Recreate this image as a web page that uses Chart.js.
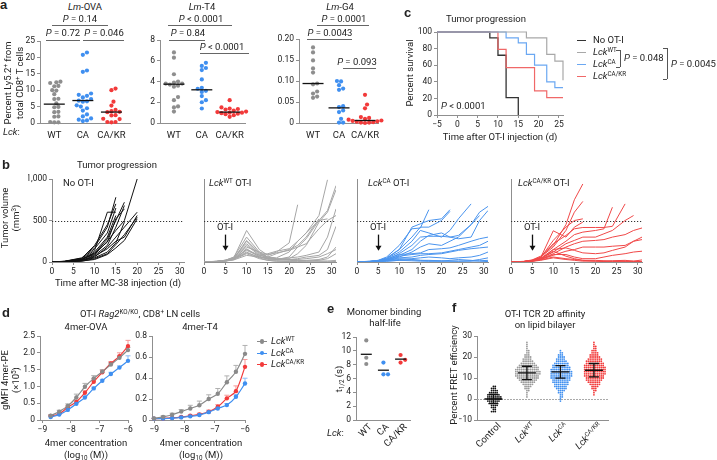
<!DOCTYPE html>
<html>
<head>
<meta charset="utf-8">
<script src="https://cdn.jsdelivr.net/npm/chart.js@4.4.0/dist/chart.umd.min.js"></script>
<style>
body { margin: 0; background: #fff; }
#fig { position: relative; width: 717px; height: 460px; overflow: hidden; font-family: Roboto, 'Noto Sans', sans-serif; color: #222; background: #fff; }
#fig canvas { position: absolute; }
.t { position: absolute; white-space: nowrap; font-size: 9.5px; line-height: 1; }
.c { transform: translate(-50%, -50%); }
.l { transform: translate(0, -50%); }
.v { transform: translate(-50%, -50%) rotate(-90deg); }
.d45 { transform-origin: 100% 50%; transform: translate(-100%, -50%) rotate(-45deg); }
.pl { font-weight: bold; font-size: 13px; font-family: Arial, 'Liberation Sans', sans-serif; }
sup { font-size: 0.66em; vertical-align: 0.5em; line-height: 0; }
sub { font-size: 0.66em; vertical-align: -0.25em; line-height: 0; }
</style>
</head>
<body>
<div id="fig"></div>
<script>
// ---------- a: Lm infections, percent Ly5.2+ ----------
const aCats = ['WT', 'CA', 'CA/KR'];
const ovaWT = [12.6, 12.4, 12.2, 11.3, 11.2, 10.0, 9.9, 8.8, 7.4, 7.3, 6.0, 4.9, 4.8, 3.4, 3.3, 2.0, 1.9, 0.3, 0.2, 0.2];
const ovaCA = [21.5, 20.8, 16.0, 15.6, 9.0, 8.6, 8.3, 7.8, 7.3, 6.8, 6.6, 6.5, 5.4, 5.0, 4.5, 3.8, 2.6, 2.0, 1.4, 1.0, 0.8, 0.6];
const ovaKR = [10.5, 10.0, 6.5, 5.3, 4.0, 3.6, 3.4, 3.3, 2.4, 2.3, 1.3, 1.2, 0.3, 0.3, 0.2];
const ovaMed = [5.75, 6.85, 3.33];
const t4WT = [6.8, 6.3, 4.7, 4.0, 3.9, 3.8, 3.8, 3.7, 3.6, 3.5, 2.5, 2.2, 1.6, 1.5, 1.1];
const t4CA = [5.8, 5.5, 5.3, 5.1, 4.2, 3.4, 3.3, 3.1, 3.0, 2.6, 2.2, 2.0, 1.4];
const t4KR = [2.2, 1.5, 1.4, 1.35, 1.3, 1.2, 1.1, 1.05, 1.0, 1.0, 0.95, 0.9, 0.85, 0.75, 0.6];
const t4Med = [3.74, 3.2, 1.05];
const g4WT = [0.18, 0.168, 0.149, 0.13, 0.12, 0.094, 0.092, 0.075, 0.07, 0.063, 0.06];
const g4CA = [0.1, 0.099, 0.09, 0.082, 0.079, 0.04, 0.038, 0.03, 0.026, 0.01, 0.001, 0.001];
const g4KR = [0.067, 0.044, 0.035, 0.014, 0.012, 0.01, 0.008, 0.006, 0.005, 0.004, 0.003, 0.002, 0.001, 0.001, 0.0];
const g4Med = [0.094, 0.036, 0.006];

// ---------- c: survival ----------
const survNoX = [-5, 8, 10, 12, 15],          survNoY = [100, 93, 72, 21, 0];
const survWTX = [-5, 17, 22, 24, 26],         survWTY = [100, 93, 73, 65, 42];
const survCAX = [-5, 12, 15, 17, 19, 22, 24, 26], survCAY = [100, 93, 87, 73, 60, 40, 33, 33];
const survKRX = [-5, 10, 12, 19, 22, 26],     survKRY = [100, 79, 57, 29, 21, 21];

// ---------- b: tumour volumes (mm3) ----------
const daysNo = [0, 3, 7, 10, 13, 15, 17, 20];
const daysOT = [0, 3, 5, 7, 10, 13, 15, 17, 20, 22, 24, 27, 29, 31];
const volNo = [
  [0, 10, 50, 180, 420, 780],
  [0, 5, 30, 100, 280, 500, 720],
  [0, 8, 40, 160, 350, 650],
  [0, 5, 20, 80, 200, 420, 680],
  [0, 3, 25, 120, 300, 560],
  [0, 6, 35, 90, 250, 380, 500, 1000],
  [0, 4, 20, 60, 180, 300, 420, 600],
  [0, 2, 15, 70, 160, 250, 300, 560],
  [0, 5, 30, 140, 600, 600],
  [0, 3, 18, 50, 120, 230, 480],
  [0, 7, 45, 200, 450, 700],
  [0, 4, 10, 40, 100, 210, 330, 540],
  [0, 6, 28, 110, 240, 520, 640],
  [0, 2, 12, 30, 90, 170, 260, 520]
];
const volWT = [
  [0, 10, 20, 50, 380, 150, 80, 120, 230, 690],
  [0, 8, 20, 60, 300, 120, 60, 50, 120, 250, 350, 560, 990],
  [0, 6, 18, 40, 250, 100, 50, 30, 60, 180, 280, 500, 620, 920],
  [0, 8, 22, 55, 220, 90, 40, 30, 40, 100, 200, 480, 600, 870],
  [0, 5, 15, 35, 200, 80, 60, 100, 150, 200, 300, 520],
  [0, 7, 20, 45, 180, 120, 90, 110, 140, 180, 220, 400, 500, 560],
  [0, 6, 15, 30, 160, 60, 40, 30, 50, 60, 80, 120, 300, 640],
  [0, 5, 12, 40, 140, 70, 30, 20, 30, 40, 60, 80, 150, 430],
  [0, 4, 15, 35, 120, 50, 20, 10, 10, 15, 20, 30, 60, 180],
  [0, 5, 12, 30, 100, 40, 20, 10, 5, 5, 10, 20, 40, 100],
  [0, 3, 10, 25, 80, 60, 50, 40, 30, 20, 15, 10, 10, 20],
  [0, 4, 12, 30, 150, 80, 100, 130, 160, 250, 350, 500, 520],
  [0, 5, 14, 35, 110, 60, 40, 30, 20, 15, 10, 10, 10, 5],
  [0, 6, 16, 40, 260, 110, 60, 40, 30, 30, 40, 60, 100, 150]
];
const volCA = [
  [0, 10, 20, 60, 200, 400, 410, 630],
  [0, 8, 18, 50, 150, 300, 420, 420, 500, 610],
  [0, 6, 15, 40, 120, 250, 380, 350, 300, 380, 520, 700],
  [0, 5, 12, 30, 100, 200, 300, 310, 310, 300, 320, 450, 600, 670],
  [0, 5, 10, 20, 80, 150, 250, 320, 350, 300, 280, 300, 500, 620],
  [0, 4, 10, 25, 60, 120, 180, 220, 200, 250, 300, 450, 560],
  [0, 6, 14, 35, 90, 100, 110, 150, 160, 170, 200, 250, 280, 300],
  [0, 5, 12, 30, 70, 90, 100, 100, 110, 130, 150, 180, 200, 250],
  [0, 4, 10, 20, 50, 60, 80, 90, 100, 120, 140, 160, 170, 180],
  [0, 3, 8, 15, 30, 40, 50, 60, 50, 40, 50, 60, 80, 120],
  [0, 5, 10, 20, 40, 30, 20, 20, 15, 10, 10, 15, 30, 50],
  [0, 4, 8, 10, 20, 15, 10, 8, 10, 20, 30, 20, 10, 5],
  [0, 5, 15, 40, 150, 420, 460, 500, 520, 630],
  [0, 3, 6, 10, 20, 25, 20, 15, 10, 10, 10, 10, 15, 20]
];
const volKR = [
  [0, 8, 25, 70, 200, 450, 750, 940],
  [0, 6, 20, 60, 180, 380, 600, 730],
  [0, 5, 18, 50, 376, 300, 420, 480],
  [0, 6, 20, 55, 220, 320, 400, 416, 416, 416, 430, 700],
  [0, 5, 15, 45, 150, 250, 330, 360, 380, 400, 660],
  [0, 4, 15, 40, 120, 220, 260, 300, 300, 340, 380, 500, 560],
  [0, 5, 14, 35, 100, 180, 220, 250, 260, 270, 300, 330, 380, 410],
  [0, 4, 12, 30, 80, 130, 150, 180, 180, 180, 190, 200, 250, 270],
  [0, 4, 12, 30, 90, 90, 60, 40, 40, 60, 80, 100, 120, 130],
  [0, 3, 10, 25, 60, 40, 30, 20, 20, 15, 10, 10, 10, 5],
  [0, 5, 15, 40, 130, 70, 40, 20, 10, 10, 15, 20, 10, 25],
  [0, 3, 8, 20, 50, 30, 20, 10, 10, 5, 5, 5, 5, 5],
  [0, 6, 18, 50, 260, 420, 500, 520],
  [0, 4, 12, 30, 150, 170, 140, 110, 100, 110, 140, 180, 250, 300]
];

// ---------- d: tetramer binding (gMFI x10^5) ----------
const concOVA = [-8.71, -8.41, -8.11, -7.81, -7.51, -7.20, -6.90, -6.60, -6.30, -6.00];
const ovaMfiWT = [0.13, 0.25, 0.42, 0.67, 0.99, 1.24, 1.44, 1.65, 1.85, 2.08];
const ovaMfiCA = [0.09, 0.16, 0.30, 0.48, 0.67, 0.94, 1.17, 1.37, 1.56, 1.76];
const ovaMfiKR = [0.12, 0.18, 0.38, 0.54, 0.81, 1.14, 1.42, 1.68, 1.90, 2.20];
const ovaErrWT = [0.03, 0.04, 0.06, 0.1, 0.1, 0.08, 0.06, 0.06, 0.06, 0.08];
const ovaErrCA = [0.02, 0.02, 0.03, 0.03, 0.04, 0.04, 0.04, 0.05, 0.05, 0.15];
const ovaErrKR = [0.02, 0.03, 0.04, 0.05, 0.06, 0.08, 0.06, 0.06, 0.1, 0.17];
const concT4 = [-9.01, -8.71, -8.41, -8.11, -7.81, -7.51, -7.20, -6.90, -6.60, -6.30, -6.00];
const t4MfiWT = [0.015, 0.03, 0.05, 0.08, 0.11, 0.14, 0.2, 0.25, 0.36, 0.46, 0.63];
const t4MfiCA = [0.012, 0.014, 0.018, 0.025, 0.035, 0.047, 0.075, 0.11, 0.142, 0.221, 0.348];
const t4MfiKR = [0.012, 0.015, 0.02, 0.028, 0.04, 0.054, 0.079, 0.126, 0.206, 0.275, 0.506];
const t4ErrWT = [0.005, 0.01, 0.015, 0.02, 0.03, 0.04, 0.04, 0.05, 0.06, 0.06, 0.08];
const t4ErrCA = [0.003, 0.003, 0.004, 0.005, 0.006, 0.008, 0.01, 0.01, 0.015, 0.02, 0.05];
const t4ErrKR = [0.003, 0.004, 0.005, 0.006, 0.008, 0.01, 0.015, 0.02, 0.03, 0.05, 0.07];

// ---------- e: monomer half-life (s) ----------
const halfWT = [11.5, 9.0, 8.1];
const halfCA = [8.3, 6.6, 6.6];
const halfKR = [9.4, 8.3, 8.7];
const halfMean = [9.5, 7.2, 8.8];

// ---------- f: FRET efficiency, counts per 1% bin ----------
const fretStart = [-6, 1, -1, 2];
const fretCtrl = [3, 2, 3, 4, 5, 7, 8, 8, 7, 5, 4, 3, 2];
const fretWT = [1, 1, 1, 2, 3, 4, 6, 8, 10, 12, 13, 14, 14, 13, 12, 10, 8, 6, 5, 4, 3, 2, 2, 1, 1, 1, 1];
const fretCA = [1, 1, 2, 2, 3, 4, 6, 7, 8, 9, 10, 11, 12, 12, 12, 11, 10, 9, 8, 6, 5, 4, 3, 2, 1];
const fretKR = [1, 1, 2, 3, 4, 6, 7, 9, 10, 11, 12, 12, 12, 12, 11, 10, 9, 8, 6, 5, 4, 3, 2, 2, 1, 1];
const fretMean = [0, 12.4, 12.9, 13.7];
const fretSD = [2.2, 3.2, 3.0, 3.2];

const FONT = 'Roboto';
const AX = '#8f8f8f';
const GRAY = '#8e8e8e', BLUE = '#3f8ff0', RED = '#f23a3a';
Chart.defaults.font.family = FONT;

const fig = document.getElementById('fig');

function txt(x, y, html, cls, css) {
  const d = document.createElement('div');
  d.className = 't ' + (cls || 'c');
  d.style.left = x + 'px';
  d.style.top = y + 'px';
  if (css) d.style.cssText += css;
  d.innerHTML = html;
  fig.appendChild(d);
}
function hr(x1, x2, y, color, w) {
  const d = document.createElement('div');
  d.style.cssText = `position:absolute;left:${x1}px;top:${y}px;width:${x2 - x1}px;height:0;border-top:${w || 1}px solid ${color || '#555'}`;
  fig.appendChild(d);
}
function vr(x, y1, y2, color) {
  const d = document.createElement('div');
  d.style.cssText = `position:absolute;left:${x}px;top:${y1}px;width:0;height:${y2 - y1}px;border-left:1px solid ${color || '#555'}`;
  fig.appendChild(d);
}

function axis(min, max, o) {
  o = o || {};
  return {
    type: 'linear', min: min, max: max,
    border: {display: true, color: AX, width: 1},
    grid: {display: !!o.tick, drawOnChartArea: false, drawTicks: true, tickLength: 3, color: AX},
    ticks: {display: !!o.fmt, color: '#222', font: {family: FONT, size: o.size || 8.5}, padding: o.pad === undefined ? 2 : o.pad,
      maxRotation: 0, autoSkip: false, callback: o.fmt},
    afterBuildTicks: s => { if (o.at) s.ticks = o.at.map(v => ({value: v})); }
  };
}

/* places a chart so that its plot area is exactly b.l..b.r, b.t..b.b on the page */
function mk(b, datasets, x, y, plugins) {
  const m = 16;
  const W = b.r - b.l + b.yw + 2 * m, H = b.b - b.t + b.xh + 2 * m;
  const c = document.createElement('canvas');
  c.width = W; c.height = H;
  c.style.left = (b.l - b.yw - m) + 'px';
  c.style.top = (b.t - m) + 'px';
  c.style.width = W + 'px';
  c.style.height = H + 'px';
  fig.appendChild(c);
  x.position = 'bottom';
  y.position = 'left';
  x.afterFit = s => { s.height = b.xh; s.paddingLeft = 0; s.paddingRight = 0; };
  y.afterFit = s => { s.width = b.yw; s.paddingTop = 0; s.paddingBottom = 0; };
  return new Chart(c, {
    type: 'scatter',
    data: {datasets: datasets},
    options: {
      responsive: false, animation: false, events: [],
      layout: {padding: m},
      plugins: {legend: {display: false}, tooltip: {enabled: false}},
      scales: {x: x, y: y}
    },
    plugins: plugins || []
  });
}

/* simple beeswarm: horizontal offsets (in x units) so dots do not overlap */
function swarm(vals, pxY, pxX, d) {
  const order = vals.map((v, i) => i).sort((a, b) => vals[a] - vals[b]);
  const done = [], off = new Array(vals.length);
  order.forEach(i => {
    const y = vals[i] * pxY;
    for (let k = 0; k < 400; k++) {
      const dx = (k % 2 ? 1 : -1) * Math.ceil(k / 2) * d * 0.5;
      if (done.every(p => (p.x - dx) * (p.x - dx) + (p.y - y) * (p.y - y) >= d * d * 0.97)) {
        done.push({x: dx, y: y});
        off[i] = dx / pxX;
        break;
      }
    }
  });
  return off;
}
function dots(vals, cat, color, r, pxY, pxX, d) {
  const off = swarm(vals, pxY, pxX, d);
  return {data: vals.map((v, i) => ({x: cat + off[i], y: v})), pointRadius: r, pointBackgroundColor: color,
    pointBorderWidth: 0, borderWidth: 0, clip: false};
}

function centerMarks(vals, hw, sds, capw) {
  return {id: 'marks', afterDatasetsDraw(ch) {
    const c = ch.ctx, xs = ch.scales.x, ys = ch.scales.y;
    c.save();
    c.strokeStyle = '#111';
    c.lineWidth = 1.3;
    vals.forEach((v, i) => {
      const x = xs.getPixelForValue(i), y = ys.getPixelForValue(v);
      c.beginPath();
      c.moveTo(x - hw, y); c.lineTo(x + hw, y);
      if (sds) {
        const y1 = ys.getPixelForValue(v - sds[i]), y2 = ys.getPixelForValue(v + sds[i]);
        c.moveTo(x, y1); c.lineTo(x, y2);
        c.moveTo(x - capw, y1); c.lineTo(x + capw, y1);
        c.moveTo(x - capw, y2); c.lineTo(x + capw, y2);
      }
      c.stroke();
    });
    c.restore();
  }};
}

// ================= panel a =================
function aPanel(b, series, yMax, at, fmt, med) {
  const pxY = (b.b - b.t) / yMax;
  const pxX = (b.r - b.l) / (b.xmax - b.xmin);
  const cols = [GRAY, BLUE, RED];
  const ds = series.map((s, i) => dots(s, i, cols[i], 2.1, pxY, pxX, 4.1));
  mk(b, ds,
    axis(b.xmin, b.xmax, {at: [0, 1, 2], fmt: v => aCats[v], size: 9.5, pad: 4}),
    axis(0, yMax, {tick: true, at: at, fmt: fmt}),
    [centerMarks(med, 10.5)]);
}
aPanel({l: 40, r: 130, t: 41, b: 123, yw: 18, xh: 16, xmin: -0.5, xmax: 2.65}, [ovaWT, ovaCA, ovaKR], 25,
  [0, 5, 10, 15, 20, 25], v => String(v), ovaMed);
aPanel({l: 160, r: 245, t: 40, b: 123, yw: 14, xh: 16, xmin: -0.5, xmax: 2.55}, [t4WT, t4CA, t4KR], 8,
  [0, 2, 4, 6, 8], v => String(v), t4Med);
aPanel({l: 299, r: 378, t: 39, b: 123, yw: 22, xh: 16, xmin: -0.54, xmax: 2.5}, [g4WT, g4CA, g4KR], 0.2,
  [0, 0.05, 0.1, 0.15, 0.2], v => v === 0 ? '0' : v.toFixed(2), g4Med);

txt(0, 4, 'a', 'pl l');
txt(85, 7, '<i>Lm</i>-OVA');
txt(202, 7, '<i>Lm</i>-T4');
txt(340, 7, '<i>Lm</i>-G4');
txt(8, 83, 'Percent Ly5.2<sup>+</sup> from', 'v');
txt(20, 83, 'total CD8<sup>+</sup> T cells', 'v');
txt(3, 132, '<i>Lck</i>:', 'l');
const pBars = [
  [52, 108, 25, 80, 19, '<i>P</i> = 0.14'],
  [46, 80, 40, 63, 33, '<i>P</i> = 0.72'],
  [83, 124, 40, 104, 33, '<i>P</i> = 0.046'],
  [168, 232, 25, 201, 19, '<i>P</i> &lt; 0.0001'],
  [169, 205, 40, 188, 33, '<i>P</i> = 0.84'],
  [200, 249, 53, 222, 47, '<i>P</i> &lt; 0.0001'],
  [317, 369, 25, 344, 19, '<i>P</i> = 0.0001'],
  [307, 352, 39, 330, 33, '<i>P</i> = 0.0043'],
  [343, 376, 68, 357, 62, '<i>P</i> = 0.093']
];
pBars.forEach(p => { hr(p[0], p[1], p[2], '#666'); txt(p[3], p[4], p[5]); });

// ================= panel c =================
function steps(xs, ys, color, w) {
  return {type: 'line', data: xs.map((x, i) => ({x: x, y: ys[i]})), stepped: true, borderColor: color,
    borderWidth: w || 1.2, pointRadius: 0, fill: false, clip: false};
}
mk({l: 437, r: 563, t: 32, b: 115, yw: 20, xh: 14},
  [steps(survWTX, survWTY, '#a8a8a8'), steps(survCAX, survCAY, '#6ba8f2'), steps(survKRX, survKRY, '#f06868'),
   steps(survNoX, survNoY, '#333', 1.3)],
  axis(-5, 26, {tick: true, at: [-5, 0, 5, 10, 15, 20, 25], fmt: v => v < 0 ? '\u2212' + (-v) : String(v)}),
  axis(0, 100, {tick: true, at: [0, 20, 40, 60, 80, 100], fmt: v => String(v)}));
txt(404, 12, 'c', 'pl l');
txt(486, 19, 'Tumor progression');
txt(410, 73, 'Percent survival', 'v');
txt(500, 137, 'Time after OT-I injection (d)');
txt(441, 106, '<i>P</i> &lt; 0.0001', 'l');
const legC = [['#333', 'No OT-I'], ['#a8a8a8', '<i>Lck</i><sup>WT</sup>'], ['#6ba8f2', '<i>Lck</i><sup>CA</sup>'],
  ['#f06868', '<i>Lck</i><sup>CA/KR</sup>']];
legC.forEach((r, i) => {
  const y = 40 + i * 12;
  hr(577, 586, y, r[0], 1.5);
  txt(593, y, r[1], 'l');
});
vr(620, 50, 67, '#555'); hr(616, 620, 50, '#555'); hr(616, 620, 67, '#555');
txt(624, 58, '<i>P</i> = 0.048', 'l');
vr(667, 48, 79, '#555'); hr(663, 667, 48, '#555'); hr(663, 667, 79, '#555');
txt(671, 64, '<i>P</i> = 0.0045', 'l');

// ================= panel b =================
function bDeco(arrow) {
  return {id: 'bdeco',
    beforeDatasetsDraw(ch) {
      const c = ch.ctx, ys = ch.scales.y, a = ch.chartArea;
      const y5 = Math.round(ys.getPixelForValue(500)) + 0.5;
      c.save();
      c.strokeStyle = '#333'; c.lineWidth = 1; c.setLineDash([1.2, 1.8]);
      c.beginPath(); c.moveTo(a.left, y5); c.lineTo(a.right, y5); c.stroke();
      c.restore();
    },
    afterDatasetsDraw(ch) {
      if (!arrow) return;
      const c = ch.ctx, xs = ch.scales.x, ys = ch.scales.y;
      const x = Math.round(xs.getPixelForValue(5)) + 0.5, y1 = ys.getPixelForValue(330), y2 = ys.getPixelForValue(135);
      c.save();
      c.strokeStyle = c.fillStyle = '#111'; c.lineWidth = 1.3;
      c.beginPath(); c.moveTo(x, y1); c.lineTo(x, y2 - 4); c.stroke();
      c.beginPath(); c.moveTo(x - 3, y2 - 5); c.lineTo(x + 3, y2 - 5); c.lineTo(x, y2); c.closePath(); c.fill();
      c.restore();
    }
  };
}
function bPanel(b, days, vols, color, first) {
  const ds = vols.map(v => ({type: 'line', data: v.map((y, i) => ({x: days[i], y: y})), borderColor: color,
    borderWidth: 1, pointRadius: 0, tension: 0, fill: false}));
  mk(b, ds,
    axis(0, 31, {tick: true, at: [0, 5, 10, 15, 20, 25, 30], fmt: v => String(v)}),
    axis(0, 1000, first ? {tick: true, at: [0, 500, 1000], fmt: v => v === 1000 ? '1,000' : String(v)} : {}),
    [bDeco(!first)]);
}
bPanel({l: 52, r: 184, t: 179, b: 262, yw: 24, xh: 14}, daysNo, volNo, '#111', true);
bPanel({l: 204, r: 336, t: 179, b: 262, yw: 4, xh: 14}, daysOT, volWT, '#a6a6a6', false);
bPanel({l: 357, r: 488, t: 179, b: 262, yw: 4, xh: 14}, daysOT, volCA, '#4a94ee', false);
bPanel({l: 511, r: 642, t: 179, b: 262, yw: 4, xh: 14}, daysOT, volKR, '#f04848', false);
txt(2, 164, 'b', 'pl l');
txt(117, 165, 'Tumor progression');
txt(5, 218, 'Tumor volume', 'v');
txt(16, 218, '(mm<sup>3</sup>)', 'v');
txt(63, 183, 'No OT-I', 'l');
txt(209, 183, '<i>Lck</i><sup>WT</sup> OT-I', 'l');
txt(368, 183, '<i>Lck</i><sup>CA</sup> OT-I', 'l');
txt(518, 183, '<i>Lck</i><sup>CA/KR</sup> OT-I', 'l');
txt(118, 283, 'Time after MC-38 injection (d)');
[225, 378, 532].forEach(x => txt(x, 227, 'OT-I'));

// ================= panel d =================
function errBars(errs) {
  return {id: 'err', beforeDatasetsDraw(ch) {
    const c = ch.ctx, ys = ch.scales.y;
    c.save();
    c.lineWidth = 1;
    errs.forEach((e, i) => {
      const ds = ch.data.datasets[i], meta = ch.getDatasetMeta(i);
      c.strokeStyle = ds.errColor;
      meta.data.forEach((p, j) => {
        const top = ys.getPixelForValue(ds.data[j].y + e[j]);
        c.beginPath();
        c.moveTo(p.x, p.y); c.lineTo(p.x, top);
        c.moveTo(p.x - 2.5, top); c.lineTo(p.x + 2.5, top);
        c.stroke();
      });
    });
    c.restore();
  }};
}
function curve(xs, ys, color, errColor) {
  return {type: 'line', data: xs.map((x, i) => ({x: x, y: ys[i]})), borderColor: color, backgroundColor: color,
    pointBackgroundColor: color, pointBorderWidth: 0, pointRadius: 2.2, borderWidth: 1.2, tension: 0.3, errColor: errColor, clip: false};
}
const dX = v => '\u2212' + (-v);
mk({l: 40, r: 128, t: 336, b: 420, yw: 18, xh: 14},
  [curve(concOVA, ovaMfiWT, '#8a8a8a', '#b0b0b0'), curve(concOVA, ovaMfiCA, '#3f8ff0', '#8cbcf5'), curve(concOVA, ovaMfiKR, '#f23a3a', '#f59a9a')],
  axis(-9.084, -6, {tick: true, at: [-9, -8, -7, -6], fmt: dX}),
  axis(0, 2.5, {tick: true, at: [0, 0.5, 1, 1.5, 2, 2.5], fmt: v => v === 0 ? '0' : v.toFixed(1)}),
  [errBars([ovaErrWT, ovaErrCA, ovaErrKR])]);
mk({l: 152, r: 245, t: 336, b: 420, yw: 18, xh: 14},
  [curve(concT4, t4MfiWT, '#8a8a8a', '#b0b0b0'), curve(concT4, t4MfiCA, '#3f8ff0', '#8cbcf5'), curve(concT4, t4MfiKR, '#f23a3a', '#f59a9a')],
  axis(-9.076, -6, {tick: true, at: [-9, -8, -7, -6], fmt: dX}),
  axis(0, 0.8, {tick: true, at: [0, 0.2, 0.4, 0.6, 0.8], fmt: v => v === 0 ? '0' : v.toFixed(1)}),
  [errBars([t4ErrWT, t4ErrCA, t4ErrKR])]);
txt(2, 312, 'd', 'pl l');
txt(140, 314, 'OT-I <i>Rag2</i><sup>KO/KO</sup>, CD8<sup>+</sup> LN cells');
txt(86, 327, '4mer-OVA');
txt(200, 327, '4mer-T4');
txt(5, 380, 'gMFI 4mer-PE', 'v');
txt(16, 380, '(\u00d710<sup>5</sup>)', 'v');
txt(86, 443, '4mer concentration');
txt(86, 455, '(log<sub>10</sub> (M))');
txt(201, 443, '4mer concentration');
txt(201, 455, '(log<sub>10</sub> (M))');
const legD = [['#8a8a8a', 'WT'], ['#3f8ff0', 'CA'], ['#f23a3a', 'CA/KR']];
legD.forEach((r, i) => {
  const y = 341 + i * 11.5;
  hr(257, 267, y, r[0], 1.2);
  const dot = document.createElement('div');
  dot.style.cssText = `position:absolute;left:${260}px;top:${y - 1.7}px;width:4.4px;height:4.4px;border-radius:50%;background:${r[0]}`;
  fig.appendChild(dot);
  txt(271, y, '<i>Lck</i><sup>' + r[1] + '</sup>', 'l');
});

// ================= panel e =================
(function () {
  const b = {l: 356, r: 410, t: 337, b: 420, yw: 16, xh: 3};
  const pxY = (b.b - b.t) / 12, pxX = (b.r - b.l) / 3.15;
  const cols = [GRAY, BLUE, RED];
  const ds = [halfWT, halfCA, halfKR].map((s, i) => dots(s, i, cols[i], 2.1, pxY, pxX, 4.6));
  mk(b, ds, axis(-0.6, 2.55, {}), axis(0, 12, {tick: true, at: [0, 2, 4, 6, 8, 10, 12], fmt: v => String(v)}),
    [centerMarks(halfMean, 5.5)]);
  txt(327, 308, 'e', 'pl l');
  txt(384, 312, 'Monomer binding');
  txt(385, 323, 'half-life');
  txt(339, 379, 't<sub>1/2</sub> (s)', 'v');
  txt(327, 433, '<i>Lck</i>:', 'l');
  ['WT', 'CA', 'CA/KR'].forEach((s, i) => txt(b.l + (i + 0.6) * pxX + 4, 425, s, 'd45'));
})();

// ================= panel f =================
(function () {
  const b = {l: 477, r: 608, t: 336, b: 420, yw: 18, xh: 3};
  const pxY = (b.b - b.t) / 40, pxX = (b.r - b.l) / 3.91;
  const cols = ['#111', '#9a9a9a', BLUE, RED];
  const groups = [fretCtrl, fretWT, fretCA, fretKR].map((cnt, g) => {
    const vals = [];
    cnt.forEach((n, k) => { for (let j = 0; j < n; j++) vals.push(fretStart[g] + k); });
    return vals;
  });
  const ds = groups.map((v, i) => dots(v, i, cols[i], 0.9, pxY, pxX, 1.85));
  const zero = {id: 'zero', beforeDatasetsDraw(ch) {
    const c = ch.ctx, a = ch.chartArea, y = Math.round(ch.scales.y.getPixelForValue(0)) + 0.5;
    c.save(); c.strokeStyle = '#aaa'; c.lineWidth = 1; c.setLineDash([2, 1]);
    c.beginPath(); c.moveTo(a.left, y); c.lineTo(a.right, y); c.stroke(); c.restore();
  }};
  mk(b, ds, axis(-0.49, 3.42, {}),
    axis(-10, 30, {tick: true, at: [-10, 0, 10, 20, 30], fmt: v => v < 0 ? '\u2212' + (-v) : String(v)}),
    [zero, centerMarks(fretMean, 9, fretSD, 5)]);
  txt(452, 307, 'f', 'pl l');
  txt(545, 314, 'OT-I TCR 2D affinity');
  txt(545, 325, 'on lipid bilayer');
  txt(454, 375, 'Percent FRET efficiency', 'v');
  const labs = ['Control', '<i>Lck</i><sup>WT</sup>', '<i>Lck</i><sup>CA</sup>', '<i>Lck</i><sup>CA/KR</sup>'];
  labs.forEach((s, i) => txt(b.l + (i + 0.49) * pxX + 6, 424, s, 'd45'));
})();
</script>
</body>
</html>
